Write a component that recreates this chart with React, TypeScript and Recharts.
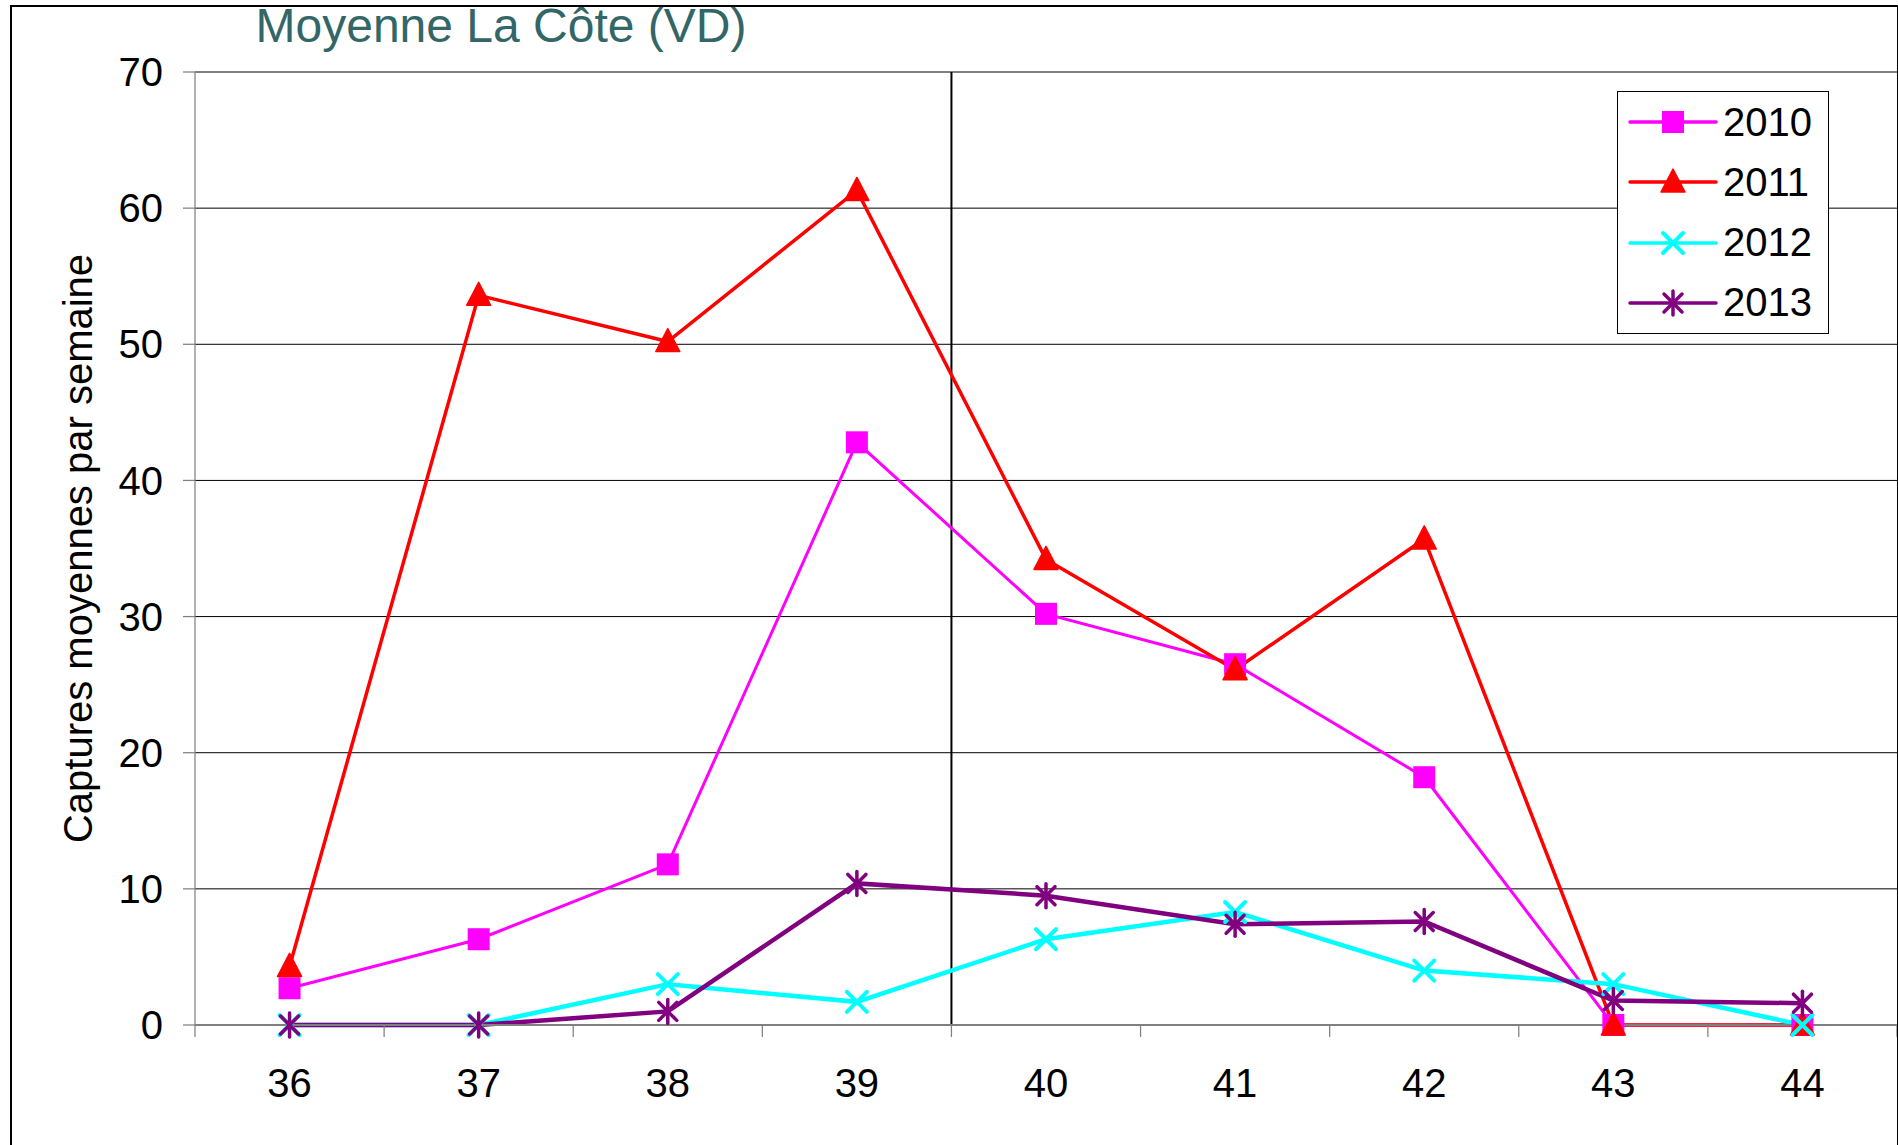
import { LineChart, Line, XAxis, YAxis, CartesianGrid, ReferenceLine, Legend } from 'recharts';

const FONT = '"Liberation Sans", Arial, sans-serif';

const WEEKS = [36, 37, 38, 39, 40, 41, 42, 43, 44];
const WEEK_EDGES = [35.5, 36.5, 37.5, 38.5, 39.5, 40.5, 41.5, 42.5, 43.5, 44.5];
const Y_TICKS = [0, 10, 20, 30, 40, 50, 60, 70];

const CAPTURES_2010 = [2.7, 6.3, 11.8, 42.8, 30.2, 26.5, 18.2, 0, 0];
const CAPTURES_2011 = [4.3, 53.6, 50.2, 61.3, 34.2, 26.1, 35.7, 0, 0];
const CAPTURES_2012 = [0, 0, 3.0, 1.7, 6.3, 8.3, 4.0, 3.0, 0];
const CAPTURES_2013 = [0, 0, 1.0, 10.4, 9.5, 7.4, 7.6, 1.8, 1.6];

const SPLIT_WEEK = 39.5;

const data = WEEKS.map((week, i) => ({
  week,
  y2010: CAPTURES_2010[i],
  y2011: CAPTURES_2011[i],
  y2012: CAPTURES_2012[i],
  y2013: CAPTURES_2013[i],
}));

const X_TICKS = [...WEEK_EDGES, ...WEEKS].sort((a, b) => a - b);

type MarkerProps = { cx?: number; cy?: number };

function SquareMarker({ cx, cy }: MarkerProps) {
  if (cx == null || cy == null) return null;
  return <rect x={cx - 11} y={cy - 11} width={22} height={22} fill="#FF00FF" />;
}

function TriangleMarker({ cx, cy }: MarkerProps) {
  if (cx == null || cy == null) return null;
  return (
    <path
      d={`M${cx},${cy - 13} L${cx + 12},${cy + 10} L${cx - 12},${cy + 10} Z`}
      fill="#FF0000"
      stroke="#FF0000"
      strokeWidth={1.5}
      strokeLinejoin="round"
    />
  );
}

function CrossMarker({ cx, cy }: MarkerProps) {
  if (cx == null || cy == null) return null;
  return (
    <g stroke="#00FFFF" strokeWidth={4} strokeLinecap="round">
      <line x1={cx - 10} y1={cy - 10} x2={cx + 10} y2={cy + 10} />
      <line x1={cx - 10} y1={cy + 10} x2={cx + 10} y2={cy - 10} />
    </g>
  );
}

function StarMarker({ cx, cy }: MarkerProps) {
  if (cx == null || cy == null) return null;
  return (
    <g stroke="#800080" strokeWidth={3.5} strokeLinecap="round">
      <line x1={cx - 9} y1={cy - 9} x2={cx + 9} y2={cy + 9} />
      <line x1={cx - 9} y1={cy + 9} x2={cx + 9} y2={cy - 9} />
      <line x1={cx} y1={cy - 12} x2={cx} y2={cy + 12} />
    </g>
  );
}

const SERIES = [
  { key: 'y2010', name: '2010', color: '#FF00FF', width: 3, Marker: SquareMarker },
  { key: 'y2011', name: '2011', color: '#FF0000', width: 3.5, Marker: TriangleMarker },
  { key: 'y2012', name: '2012', color: '#00FFFF', width: 4.5, Marker: CrossMarker },
  { key: 'y2013', name: '2013', color: '#800080', width: 4.5, Marker: StarMarker },
];

function WeekTick({ x, y, payload }: any) {
  const v = payload.value;
  if (!Number.isInteger(v)) {
    return <line x1={x} x2={x} y1={y} y2={y + 12} stroke="#808080" strokeWidth={1.25} />;
  }
  return (
    <text x={x} y={y + 72} textAnchor="middle" fontSize={40} fill="#000" fontFamily={FONT}>
      {v}
    </text>
  );
}

function LegendBox({ payload }: any) {
  return (
    <div
      style={{
        width: 210,
        height: 241,
        border: '1.5px solid #000',
        background: '#fff',
        fontFamily: FONT,
      }}
    >
      {(payload || []).map((item: any) => {
        const s = SERIES.find((d) => d.name === item.value) || SERIES[0];
        const M = s.Marker;
        return (
          <div key={item.value} style={{ height: 60.25, display: 'flex', alignItems: 'center' }}>
            <svg width={100} height={60} style={{ display: 'block' }}>
              <line x1={12} x2={98} y1={30} y2={30} stroke={s.color} strokeWidth={3.5} strokeLinecap="round" />
              <M cx={55} cy={30} />
            </svg>
            <span style={{ fontSize: 40, color: '#000', marginLeft: 5 }}>{item.value}</span>
          </div>
        );
      })}
    </div>
  );
}

export default function App() {
  return (
    <div
      style={{
        position: 'relative',
        width: 1898,
        height: 1145,
        overflow: 'hidden',
        background: '#fff',
        fontFamily: FONT,
      }}
    >
      <style>{'body{margin:0}'}</style>
      <div
        style={{
          position: 'absolute',
          left: 0,
          top: 2,
          width: 1002,
          textAlign: 'center',
          fontSize: 48,
          lineHeight: '48px',
          color: '#336666',
        }}
      >
        Moyenne La Côte (VD)
      </div>
      <LineChart width={1898} height={1145} data={data} margin={{ top: 72, right: 1, left: 0, bottom: 20 }}>
        <CartesianGrid vertical={false} stroke="#000" strokeWidth={1} />
        <XAxis
          dataKey="week"
          type="number"
          domain={[35.5, 44.5]}
          ticks={X_TICKS}
          interval={0}
          tick={<WeekTick />}
          tickLine={false}
          tickSize={0}
          tickMargin={0}
          height={100}
          axisLine={{ stroke: '#808080', strokeWidth: 2 }}
        />
        <YAxis
          type="number"
          domain={[0, 70]}
          ticks={Y_TICKS}
          interval={0}
          width={195}
          tickSize={12}
          tickMargin={20}
          tick={{ fill: '#000', fontSize: 40, fontFamily: FONT }}
          tickLine={{ stroke: '#808080', strokeWidth: 1.25 }}
          axisLine={{ stroke: '#808080', strokeWidth: 1.25 }}
          label={{
            value: 'Captures moyennes par semaine',
            angle: -90,
            position: 'insideLeft',
            offset: 78,
            style: { textAnchor: 'middle', fontSize: 40, fill: '#000', fontFamily: FONT },
          }}
        />
        <ReferenceLine y={70} stroke="#808080" strokeWidth={2} />
        <ReferenceLine x={SPLIT_WEEK} stroke="#000" strokeWidth={2} />
        <Legend
          layout="vertical"
          align="center"
          verticalAlign="middle"
          content={<LegendBox />}
          wrapperStyle={{ left: 1617, top: 91, width: 213, height: 244 }}
        />
        {SERIES.map((s) => (
          <Line
            key={s.key}
            type="linear"
            dataKey={s.key}
            name={s.name}
            stroke={s.color}
            strokeWidth={s.width}
            dot={(p: any) => <s.Marker key={`${s.key}-${p.index}`} cx={p.cx} cy={p.cy} />}
            activeDot={false}
            isAnimationActive={false}
          />
        ))}
      </LineChart>
      <div
        style={{
          position: 'absolute',
          left: 10,
          top: 5,
          width: 1885,
          height: 1200,
          border: '2px solid #000',
          pointerEvents: 'none',
        }}
      />
    </div>
  );
}
